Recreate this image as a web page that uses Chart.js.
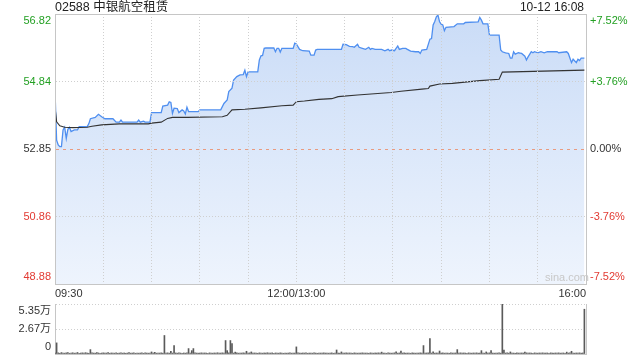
<!DOCTYPE html>
<html>
<head>
<meta charset="utf-8">
<script src="https://cdn.jsdelivr.net/npm/chart.js@4.4.1/dist/chart.umd.min.js"></script>
<style>
  body { margin: 0; background: #fff; }
  #wrap { position: relative; width: 640px; height: 360px; overflow: hidden;
          font-family: "Liberation Sans", Arial, "Noto Sans CJK SC", sans-serif; }
  #title { position: absolute; left: 55px; top: 0; font-size: 12.5px; line-height: 15px; color: #222; }
  #stamp { position: absolute; right: 56px; top: 0; font-size: 12px; line-height: 15px; color: #222; }
  #logo { position: absolute; left: 545px; top: 271px; font-size: 11px; line-height: 13px; color: #c8c8c8; }
  canvas { position: absolute; left: 0; }
  #priceChart { top: 0; }
  #volChart { top: 300px; }
</style>
</head>
<body>
<div id="wrap">
  <canvas id="priceChart" width="640" height="300"></canvas>
  <canvas id="volChart" width="640" height="60"></canvas>
  <div id="title">02588 中银航空租赁</div>
  <div id="stamp">10-12 16:08</div>
  <div id="logo">sina.com</div>
</div>
<script>
// DATA
const prevClose = 52.85;

// minutes since 09:30 (lunch break removed)
const priceMinutes = [
  0,1,2,3,4,5,6,7,8,9,
  10,12,14,15,20,21,22,25,27,29,
  31,36,38,40,41,42,51,52,53,55,
  56,59,60,66,67,70,71,72,73,74,
  76,77,79,80,81,82,83,84,89,90,
  103,105,107,108,110,111,113,115,117,118,
  119,120,126,127,128,129,130,131,136,137,
  138,139,140,141,148,149,150,152,154,158,
  159,161,162,163,178,179,181,183,185,186,
  188,189,191,193,195,196,197,199,203,205,
  207,208,209,211,213,214,216,218,219,221,
  224,226,227,228,231,233,234,235,236,237,
  238,239,240,241,242,243,248,250,254,255,
  263,264,265,266,269,270,276,277,278,280,
  282,283,284,285,286,288,289,290,292,293,
  294,296,297,298,300,302,304,306,312,313,
  318,319,321,322,324,325,326,327,329
];
const prices = [
  54.58,53.11,52.97,52.92,52.92,53.41,53.49,53.16,53.43,53.49,
  53.36,53.41,53.41,53.51,53.51,53.59,53.74,53.78,53.87,53.80,
  53.74,53.74,53.64,53.64,53.70,53.64,53.64,53.70,53.64,53.67,
  53.64,53.64,53.92,53.92,54.11,54.14,54.24,54.22,53.90,54.05,
  54.04,53.92,54.00,53.97,53.88,54.08,53.95,53.95,53.95,54.00,
  54.00,54.19,54.29,54.54,54.64,54.88,54.98,55.03,55.04,55.17,
  54.98,55.12,55.12,55.47,55.59,55.60,55.81,55.82,55.82,55.71,
  55.81,55.81,55.70,55.81,55.81,55.96,55.94,55.78,55.74,55.73,
  55.61,55.61,55.76,55.78,55.78,55.93,55.92,55.87,55.86,55.84,
  55.93,55.84,55.81,55.78,55.84,55.78,55.81,55.78,55.78,55.74,
  55.78,55.74,55.76,55.74,55.88,55.78,55.81,55.81,55.78,55.73,
  55.71,55.71,55.66,55.76,55.78,56.08,56.10,56.50,56.60,56.74,
  56.79,56.59,56.52,56.50,56.33,56.43,56.45,56.53,56.53,56.57,
  56.59,56.72,56.64,56.53,56.53,56.20,56.20,55.76,55.71,55.68,
  55.66,55.52,55.52,55.71,55.64,55.68,55.67,55.66,55.58,55.47,
  55.56,55.71,55.68,55.71,55.68,55.71,55.68,55.71,55.71,55.68,
  55.71,55.66,55.39,55.49,55.39,55.49,55.45,55.52,55.52
];

const avgMinutes = [0,1,3,6,11,20,23,29,40,58,60,66,70,73,82,104,107,110,118,128,
  141,148,150,155,164,172,176,188,209,215,228,232,233,239,247,264,276,278,329];
const avgPrices = [54.09,53.65,53.53,53.49,53.48,53.49,53.52,53.56,53.59,53.59,53.61,53.64,53.75,53.78,53.78,53.80,53.84,54.00,54.02,54.06,
  54.12,54.14,54.24,54.26,54.31,54.33,54.39,54.44,54.51,54.55,54.61,54.63,54.70,54.76,54.78,54.86,54.90,55.11,55.17];

// volume per minute, in 万股 (minute 0..329)
const volumes = [
  0.10,1.19,0.12,0.08,0.15,0.10,0.09,0.12,0.14,0.08, 0.10,0.13,0.09,0.11,0.16,0.08,0.10,0.12,0.09,0.14, 0.10,0.08,0.47,0.12,0.10,0.09,0.15,0.11,0.08,0.10,
  0.12,0.09,0.10,0.14,0.08,0.11,0.10,0.09,0.13,0.08, 0.10,0.12,0.09,0.11,0.08,0.10,0.14,0.09,0.10,0.12, 0.08,0.11,0.09,0.10,0.13,0.08,0.12,0.10,0.09,0.11,
  0.22,0.10,0.18,0.09,0.11,0.10,0.12,0.09,1.98,0.10, 0.12,0.09,0.29,0.10,0.90,0.11,0.09,0.12,0.10,0.08, 0.11,0.09,0.13,0.58,0.10,0.36,0.58,0.12,0.10,0.09,
  0.10,0.12,0.09,0.11,0.10,0.08,0.12,0.10,0.09,0.11, 0.10,0.13,0.09,0.10,0.12,0.11,1.44,0.36,0.12,1.44, 1.12,0.10,0.20,0.12,0.09,0.11,0.10,0.12,0.09,0.29,
  0.10,0.12,0.22,0.09,0.11,0.10,0.08,0.12,0.10,0.09, 0.11,0.10,0.13,0.09,0.10,0.12,0.08,0.11,0.10,0.09, 0.12,0.10,0.08,0.11,0.09,0.10,0.13,0.09,0.11,0.10,
  0.76,0.12,0.10,0.09,0.11,0.10,0.12,0.08,0.10,0.11, 0.09,0.12,0.10,0.08,0.11,0.10,0.09,0.12,0.10,0.11, 0.09,0.10,0.12,0.08,0.11,0.43,0.10,0.09,0.22,0.11,
  0.10,0.12,0.09,0.11,0.10,0.08,0.12,0.10,0.09,0.11, 0.10,0.12,0.09,0.10,0.11,0.08,0.12,0.10,0.09,0.11, 0.10,0.12,0.09,0.20,0.10,0.11,0.08,0.12,0.10,0.09,
  0.10,0.12,0.22,0.09,0.11,0.32,0.10,0.12,0.09,0.10, 0.11,0.08,0.12,0.10,0.09,0.11,0.10,0.12,0.09,0.90, 0.10,0.11,0.12,1.66,0.10,0.22,0.09,0.11,0.10,0.32,
  0.10,0.12,0.09,0.11,0.10,0.08,0.12,0.10,0.09,0.11, 0.47,0.10,0.12,0.09,0.11,0.10,0.08,0.12,0.10,0.09, 0.11,0.10,0.12,0.09,0.10,0.36,0.11,0.09,0.22,0.10,
  0.12,0.36,0.10,0.09,0.11,0.10,0.12,0.09,5.33,0.43, 0.10,0.12,0.09,0.22,0.11,0.10,0.08,0.12,0.10,0.09, 0.11,0.10,0.20,0.12,0.09,0.11,0.10,0.08,0.12,0.10,
  0.09,0.11,0.10,0.12,0.09,0.10,0.11,0.08,0.12,0.10, 0.09,0.11,0.10,0.12,0.09,0.10,0.11,0.08,0.20,0.10, 0.12,0.29,0.10,0.09,0.11,0.10,0.12,0.09,0.11,4.79
];

// TICKS
const yTicks = [48.88, 50.865, 52.85, 54.835, 56.82];
const yTickLabels = ['48.88', '50.86', '52.85', '54.84', '56.82'];
const pctTickLabels = ['-7.52%', '-3.76%', '0.00%', '+3.76%', '+7.52%'];
const timeTicks = [0, 150, 330];
const timeTickLabels = ['09:30', '12:00/13:00', '16:00'];
const volTicks = [0, 2.67, 5.35];
const volTickLabels = ['0', '2.67万', '5.35万'];

// STYLE
const FONT = { family: "'Liberation Sans', Arial, 'Noto Sans CJK SC', sans-serif", size: 11 };
const BORDER = '#c6c6c6';
const GRID = '#cfcfcf';
const UP = '#23a023';
const DOWN = '#e23a32';
const FLAT = '#333';

// push top/bottom labels inside the plot
function edgeLabel(text, i, n) {
  if (i === n - 1) return ['', text];
  if (i === 0) return [text, ''];
  return text;
}

function tickColor(c) {
  const v = c.tick.value;
  if (v > prevClose + 0.001) return UP;
  if (v < prevClose - 0.001) return DOWN;
  return FLAT;
}

function fixWidth(w) {
  return function (s) {
    s.width = w;
    s.paddingTop = 0;
    s.paddingBottom = 0;
  };
}

function setTicks(values) {
  return function (s) {
    s.ticks = values.map(v => ({ value: v }));
  };
}

// PRICE CHART
const gridMinutes = [];
for (let m = 0; m <= 330; m += 30) gridMinutes.push(m);

new Chart(document.getElementById('priceChart'), {
  type: 'line',
  data: {
    datasets: [{
      data: priceMinutes.map((t, i) => ({ x: t, y: prices[i] })),
      order: 2,
      borderColor: '#4f8ff0',
      borderWidth: 1.3,
      pointRadius: 0,
      tension: 0,
      fill: 'start',
      backgroundColor: c => {
        const a = c.chart.chartArea;
        if (!a) return 'rgba(0,0,0,0)';
        const g = c.chart.ctx.createLinearGradient(0, a.top, 0, a.bottom);
        g.addColorStop(0, '#cadcf7');
        g.addColorStop(1, '#eef4fd');
        return g;
      }
    }, {
      data: avgMinutes.map((t, i) => ({ x: t, y: avgPrices[i] })),
      order: 1,
      borderColor: '#333',
      borderWidth: 1.1,
      pointRadius: 0,
      tension: 0,
      fill: false
    }]
  },
  options: {
    responsive: false,
    animation: false,
    events: [],
    layout: { autoPadding: false, padding: { top: 14, left: 0, right: 0, bottom: 0 } },
    plugins: { legend: { display: false }, tooltip: { enabled: false } },
    scales: {
      x: {
        type: 'linear', min: 0, max: 330,
        afterBuildTicks: setTicks(gridMinutes),
        afterFit: s => { s.height = 16; s.paddingLeft = 0; s.paddingRight = 0; },
        ticks: {
          autoSkip: false, maxRotation: 0, align: 'inner', padding: 3,
          font: FONT, color: '#333',
          callback: v => {
            const k = timeTicks.indexOf(v);
            return k >= 0 ? timeTickLabels[k] : '';
          }
        },
        grid: {
          z: 1, drawTicks: false, lineWidth: 1,
          color: c => (c.tick && (c.tick.value === 0 || c.tick.value === 330)) ? BORDER : GRID
        },
        border: {
          z: 1, color: BORDER,
          dash: c => (!c.tick || c.tick.value === 0 || c.tick.value === 330) ? [] : [1, 2]
        }
      },
      y: {
        position: 'left', min: yTicks[0], max: yTicks[4],
        afterBuildTicks: setTicks(yTicks),
        afterFit: fixWidth(55),
        ticks: {
          autoSkip: false, padding: 4, font: FONT, color: tickColor,
          callback: (v, i) => edgeLabel(yTickLabels[i], i, yTickLabels.length)
        },
        grid: {
          z: 1, drawTicks: false,
          color: c => {
            if (!c.tick) return BORDER;
            if (c.index === 0 || c.index === yTicks.length - 1) return BORDER;
            if (Math.abs(c.tick.value - prevClose) < 0.001) return '#e99b80';
            return GRID;
          }
        },
        border: {
          z: 1, color: BORDER,
          dash: c => {
            if (!c.tick || c.index === 0 || c.index === yTicks.length - 1) return [];
            if (Math.abs(c.tick.value - prevClose) < 0.001) return [3, 4];
            return [1, 2];
          }
        }
      },
      y2: {
        position: 'right', min: yTicks[0], max: yTicks[4],
        afterBuildTicks: setTicks(yTicks),
        afterFit: fixWidth(54),
        ticks: {
          autoSkip: false, padding: 4, font: FONT, color: tickColor,
          callback: (v, i) => edgeLabel(pctTickLabels[i], i, pctTickLabels.length)
        },
        grid: { display: false, drawTicks: false },
        border: { z: 1, color: BORDER }
      }
    }
  }
});

// VOLUME CHART
new Chart(document.getElementById('volChart'), {
  type: 'bar',
  data: {
    datasets: [{
      data: volumes.map((v, i) => ({ x: i, y: v })),
      backgroundColor: '#5a5a5a',
      borderWidth: 0,
      barThickness: 1
    }]
  },
  options: {
    responsive: false,
    animation: false,
    events: [],
    layout: { autoPadding: false, padding: { top: 4, left: 0, right: 0, bottom: 6 } },
    plugins: { legend: { display: false }, tooltip: { enabled: false } },
    scales: {
      x: { type: 'linear', min: 0, max: 330, offset: false, display: false },
      y: {
        position: 'left', min: 0, max: volTicks[2],
        afterBuildTicks: setTicks(volTicks),
        afterFit: fixWidth(55),
        ticks: {
          autoSkip: false, padding: 4, font: FONT, color: '#333',
          callback: (v, i) => edgeLabel(volTickLabels[i], i, volTickLabels.length)
        },
        grid: {
          drawTicks: false,
          color: c => (c.index === 0) ? BORDER : GRID
        },
        border: {
          color: BORDER,
          dash: c => (!c.tick || c.index === 0) ? [] : [1, 2]
        }
      },
      y2: {
        position: 'right', min: 0, max: volTicks[2],
        afterFit: fixWidth(54),
        ticks: { display: false },
        grid: { display: false, drawTicks: false },
        border: { color: BORDER }
      }
    }
  }
});
</script>
</body>
</html>
